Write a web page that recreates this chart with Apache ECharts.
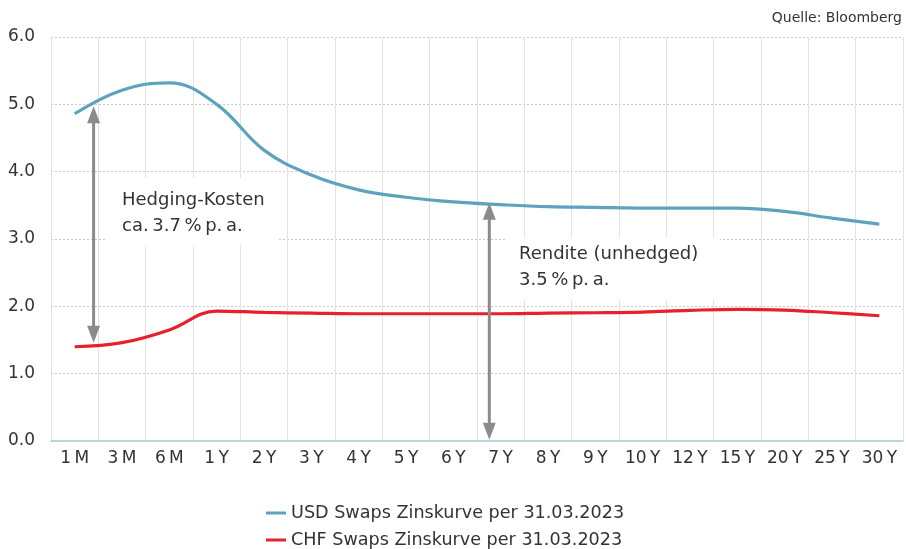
<!DOCTYPE html>
<html>
<head>
<meta charset="utf-8">
<script src="https://cdn.jsdelivr.net/npm/echarts@6/dist/echarts.min.js"></script>
<style>
  html, body { margin: 0; padding: 0; background: #fff; }
  #chart { width: 906px; height: 549px; }
</style>
</head>
<body>
<div id="chart"></div>
<script>
const T = '\u2009'
const tenors = ['1M', '3M', '6M', '1Y', '2Y', '3Y', '4Y', '5Y', '6Y', '7Y', '8Y', '9Y', '10Y', '12Y', '15Y', '20Y', '25Y', '30Y']
const usdCurve = [4.86, 5.21, 5.32, 5.00, 4.32, 3.95, 3.73, 3.62, 3.55, 3.51, 3.48, 3.47, 3.46, 3.46, 3.46, 3.41, 3.31, 3.22]
const chfCurve = [1.40, 1.46, 1.65, 1.93, 1.91, 1.90, 1.89, 1.89, 1.89, 1.89, 1.90, 1.905, 1.915, 1.94, 1.955, 1.945, 1.905, 1.86]
const yTicks = [0, 1, 2, 3, 4, 5, 6]

// arrows: [category position (fractional index), from value, to value]
const hedgeArrow = [0.4, 4.97, 1.46]
const yieldArrow = [8.76, 3.54, 0.02]

const font = 'DejaVu Sans'
const textColor = '#333'
const arrowColor = '#8b8b8f'

const chart = echarts.init(document.getElementById('chart'))

chart.setOption({
  animation: false,
  textStyle: { fontFamily: font },
  grid: { left: 51, right: 3, top: 37, bottom: 108 },
  legend: {
    orient: 'vertical',
    left: 266,
    top: 504,
    height: 45,
    padding: 0,
    icon: 'rect',
    itemWidth: 20,
    itemHeight: 3,
    itemGap: 9,
    textStyle: { fontFamily: font, fontSize: 17.6, color: textColor, lineHeight: 18 },
    data: ['USD Swaps Zinskurve per 31.03.2023', 'CHF Swaps Zinskurve per 31.03.2023']
  },
  xAxis: {
    type: 'category',
    data: tenors,
    boundaryGap: true,
    axisTick: { show: false },
    axisLine: { lineStyle: { color: '#a6cdd3', width: 1.5 } },
    axisLabel: {
      interval: 0,
      margin: 9,
      fontSize: 17,
      color: textColor,
      formatter: v => v.replace(/(\d)([MY])/, '$1' + T + '$2')
    },
    splitLine: { show: true, interval: 0, lineStyle: { color: '#e2e2e2', width: 1 } }
  },
  yAxis: {
    type: 'value',
    min: yTicks[0],
    max: yTicks[yTicks.length - 1],
    interval: 1,
    axisLine: { show: false },
    axisTick: { show: false },
    axisLabel: { fontSize: 17, color: textColor, margin: 16, formatter: v => v.toFixed(1) },
    splitLine: { lineStyle: { color: '#c9c9c9', type: [2, 2], width: 1 } }
  },
  series: [
    {
      name: 'USD Swaps Zinskurve per 31.03.2023',
      type: 'line',
      data: usdCurve,
      smooth: 0.4,
      showSymbol: false,
      symbol: 'none',
      lineStyle: { color: '#5ea3bd', width: 3.2 },
      itemStyle: { color: '#5ea3bd' },
      z: 3
    },
    {
      name: 'CHF Swaps Zinskurve per 31.03.2023',
      type: 'line',
      data: chfCurve,
      smooth: 0.4,
      showSymbol: false,
      symbol: 'none',
      lineStyle: { color: '#e8202c', width: 3.2 },
      itemStyle: { color: '#e8202c' },
      z: 3
    }
  ]
})

const catX = pos => {
  const i = Math.floor(pos)
  const f = pos - i
  const a = chart.convertToPixel({ xAxisIndex: 0 }, i)
  const b = chart.convertToPixel({ xAxisIndex: 0 }, Math.min(i + 1, tenors.length - 1))
  return a + (b - a) * f
}
const valY = v => chart.convertToPixel({ yAxisIndex: 0 }, v)

const arrowShapes = (arrow, id) => {
  const x = catX(arrow[0])
  const y1 = valY(arrow[1])
  const y2 = valY(arrow[2])
  const hw = 6.5
  const hh = 17
  return [
    { type: 'line', id: id + 'l', z: 200, shape: { x1: x, y1: y1 + hh - 2, x2: x, y2: y2 - hh + 2 }, style: { stroke: arrowColor, lineWidth: 3 } },
    { type: 'polygon', id: id + 't', z: 200, shape: { points: [[x, y1], [x - hw, y1 + hh], [x + hw, y1 + hh]] }, style: { fill: arrowColor } },
    { type: 'polygon', id: id + 'b', z: 200, shape: { points: [[x, y2], [x - hw, y2 - hh], [x + hw, y2 - hh]] }, style: { fill: arrowColor } }
  ]
}

const labelStyle = { fill: textColor, fontSize: 18, fontFamily: font, lineHeight: 26 }

chart.setOption({
  graphic: [
    { type: 'rect', z: 100, shape: { x: 107, y: 178, width: 170, height: 67 }, style: { fill: '#fff' } },
    { type: 'rect', z: 100, shape: { x: 505, y: 237, width: 215, height: 63 }, style: { fill: '#fff' } },
    { type: 'text', z: 101, left: 122, top: 187, style: Object.assign({ text: 'Hedging-Kosten\nca.' + T + '3.7' + T + '%' + T + 'p.' + T + 'a.' }, labelStyle) },
    { type: 'text', z: 101, left: 519, top: 241, style: Object.assign({ text: 'Rendite (unhedged)\n3.5' + T + '%' + T + 'p.' + T + 'a.' }, labelStyle) },
    { type: 'text', z: 101, right: 4, top: 11, style: { text: 'Quelle: Bloomberg', fill: textColor, fontSize: 14, fontFamily: font } },
    ...arrowShapes(hedgeArrow, 'ha'),
    ...arrowShapes(yieldArrow, 'ya')
  ]
})

window.addEventListener('resize', () => chart.resize())
</script>
</body>
</html>
